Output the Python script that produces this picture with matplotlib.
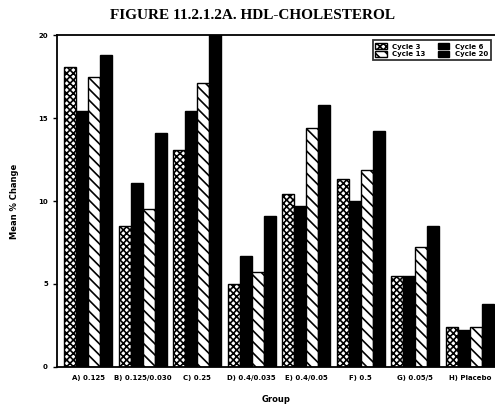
import matplotlib
matplotlib.use('Agg')
import matplotlib.pyplot as plt
import numpy as np

# средние изменения HDL по группам и циклам
groups = ['A) 0.125', 'B) 0.125/0.030', 'C) 0.25', 'D) 0.4/0.035',
          'E) 0.4/0.05', 'F) 0.5', 'G) 0.05/5', 'H) Placebo']
cycles = ['Cycle 3', 'Cycle 6', 'Cycle 13', 'Cycle 20']
cycle3 = [18.1, 8.5, 13.1, 5.0, 10.4, 11.3, 5.5, 2.4]
cycle6 = [15.4, 11.1, 15.4, 6.7, 9.7, 10.0, 5.5, 2.2]
cycle13 = [17.5, 9.5, 17.1, 5.7, 14.4, 11.9, 7.2, 2.4]
cycle20 = [18.8, 14.1, 20.0, 9.1, 15.8, 14.2, 8.5, 3.8]
yticks = [0, 5, 10, 15, 20]

plt.rcParams['hatch.linewidth'] = 1.2
fig = plt.figure(figsize=(4.95, 4.09), dpi=100)
ax = fig.add_axes([0.115, 0.103, 0.885, 0.811])

x = np.arange(len(groups))
w = 0.22
series = [cycle3, cycle6, cycle13, cycle20]
hatches = ['xxxxx', None, '\\\\\\', None]
colors = ['white', 'black', 'white', 'black']
handles = []
for i, vals in enumerate(series):
    b = ax.bar(x + (i - 1.5) * w, vals, w, color=colors[i], edgecolor='black',
               hatch=hatches[i], linewidth=1.0, label=cycles[i])
    handles.append(b)

ax.set_xlim(-0.57, 7.46)
ax.set_ylim(0, 20)
ax.set_yticks(yticks)
ax.set_yticklabels([str(t) for t in yticks], fontsize=5, fontweight='bold')
ax.set_xticks(x)
ax.set_xticklabels(groups, fontsize=5, fontweight='bold')
ax.tick_params(axis='x', length=0, pad=6)
ax.tick_params(axis='y', length=3, width=1, direction='out')
for s in ax.spines.values():
    s.set_linewidth(1.3)
ax.spines['right'].set_visible(False)

ax.set_ylabel('Mean % Change', fontsize=6, fontweight='bold', labelpad=14)
ax.set_xlabel('Group', fontsize=6, fontweight='bold', labelpad=10)

leg = ax.legend([handles[0], handles[2], handles[1], handles[3]],
                [cycles[0], cycles[2], cycles[1], cycles[3]],
                ncol=2, loc='upper right', bbox_to_anchor=(0.998, 0.995),
                frameon=True, fancybox=False, edgecolor='black',
                handlelength=1.6, handleheight=1.0, columnspacing=1.8,
                borderpad=0.4, labelspacing=0.2, prop={'weight': 'bold', 'size': 5})
leg.get_frame().set_linewidth(1.3)

fig.text(0.51, 0.963, 'FIGURE 11.2.1.2A. HDL-CHOLESTEROL', ha='center', va='center',
         fontsize=11, fontweight='bold', family='Liberation Serif')

fig.savefig('out.png', dpi=100)
